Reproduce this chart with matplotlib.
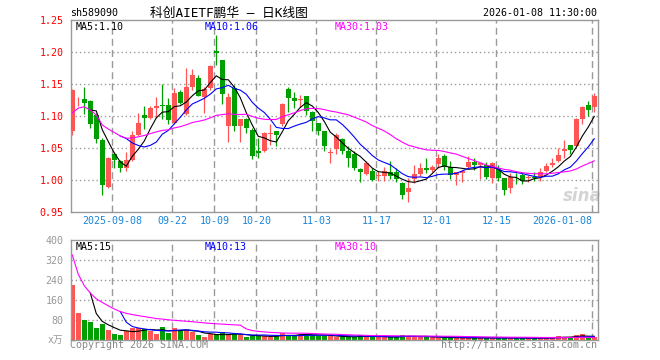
"""
Daily K-line chart (sina finance style) for sh589090 with MA lines and volume.
"""

import numpy as np
import pandas as pd
import matplotlib
matplotlib.use("Agg")
import matplotlib.pyplot as plt

# ── Style ────────────────────────────────────────────────────────────────────
plt.rcParams['font.family'] = ['DejaVu Sans Mono', 'Noto Sans CJK SC']
RED    = '#ff5555'
GREEN  = '#00a000'
GRID   = '#9a9a9a'
FRAME  = '#999999'
OUTPUT = "out.png"

# ── Data ─────────────────────────────────────────────────────────────────────
# one trading day before the window: only used for the moving averages
prior_close  = [1.07]
prior_volume = [460]

open_ = [1.076, 1.126, 1.126, 1.124, 1.102, 1.063, 0.989, 1.040, 1.029, 1.018,
         1.032, 1.070, 1.102, 1.097, 1.113, 1.117, 1.117, 1.089, 1.138, 1.103,
         1.145, 1.160, 1.129, 1.143, 1.201, 1.188, 1.085, 1.144, 1.084, 1.095,
         1.078, 1.046, 1.045, 1.072, 1.076, 1.088, 1.142, 1.128, 1.125, 1.131,
         1.107, 1.089, 1.076, 1.042, 1.048, 1.064, 1.046, 1.040, 1.017, 1.009,
         1.014, 1.006, 1.007, 1.013, 1.013, 0.996, 0.982, 1.001, 1.009, 1.019,
         1.015, 1.025, 1.037, 1.020, 1.008, 1.011, 1.021, 1.028, 1.024, 1.024,
         1.003, 1.019, 1.003, 0.988, 1.002, 1.008, 1.003, 1.004, 1.005, 1.014,
         1.023, 1.029, 1.045, 1.054, 1.053, 1.095, 1.117, 1.114]
high  = [1.142, 1.130, 1.146, 1.125, 1.104, 1.066, 1.036, 1.043, 1.032, 1.043,
         1.077, 1.104, 1.115, 1.115, 1.129, 1.150, 1.128, 1.143, 1.141, 1.175,
         1.174, 1.164, 1.146, 1.180, 1.226, 1.188, 1.136, 1.149, 1.095, 1.097,
         1.081, 1.066, 1.075, 1.088, 1.077, 1.120, 1.145, 1.138, 1.133, 1.131,
         1.108, 1.089, 1.077, 1.048, 1.073, 1.066, 1.053, 1.045, 1.018, 1.030,
         1.019, 1.014, 1.021, 1.029, 1.019, 0.997, 1.003, 1.024, 1.027, 1.034,
         1.024, 1.041, 1.040, 1.029, 1.013, 1.016, 1.037, 1.034, 1.027, 1.028,
         1.028, 1.024, 1.003, 1.011, 1.011, 1.011, 1.008, 1.013, 1.019, 1.027,
         1.034, 1.050, 1.063, 1.055, 1.097, 1.115, 1.124, 1.136]
low   = [1.071, 1.115, 1.103, 1.082, 1.058, 0.976, 0.987, 1.019, 1.013, 1.014,
         1.030, 1.069, 1.080, 1.095, 1.097, 1.095, 1.088, 1.088, 1.119, 1.102,
         1.141, 1.131, 1.105, 1.141, 1.180, 1.119, 1.059, 1.076, 1.060, 1.073,
         1.033, 1.034, 1.044, 1.055, 1.053, 1.085, 1.106, 1.112, 1.114, 1.102,
         1.077, 1.071, 1.045, 1.027, 1.041, 1.040, 1.021, 1.015, 0.997, 1.008,
         0.998, 0.998, 0.998, 1.002, 0.997, 0.970, 0.965, 0.995, 1.007, 1.011,
         1.013, 1.019, 1.016, 1.002, 0.992, 0.997, 1.019, 1.016, 1.002, 1.002,
         0.996, 0.999, 0.977, 0.980, 0.993, 0.993, 0.997, 0.998, 0.998, 1.013,
         1.021, 1.028, 1.035, 1.041, 1.052, 1.087, 1.100, 1.107]
close = [1.140, 1.127, 1.121, 1.088, 1.064, 0.992, 1.035, 1.032, 1.018, 1.031,
         1.070, 1.089, 1.097, 1.113, 1.116, 1.115, 1.093, 1.136, 1.120, 1.145,
         1.164, 1.132, 1.142, 1.178, 1.198, 1.135, 1.130, 1.085, 1.095, 1.081,
         1.038, 1.042, 1.073, 1.073, 1.071, 1.118, 1.128, 1.123, 1.127, 1.108,
         1.092, 1.077, 1.053, 1.043, 1.071, 1.046, 1.035, 1.019, 1.013, 1.026,
         1.000, 1.007, 1.014, 1.007, 1.002, 0.976, 0.988, 1.009, 1.019, 1.015,
         1.020, 1.035, 1.021, 1.008, 1.013, 1.014, 1.028, 1.024, 1.026, 1.005,
         1.026, 1.003, 0.985, 1.005, 1.001, 0.998, 1.004, 1.003, 1.012, 1.022,
         1.027, 1.039, 1.048, 1.047, 1.095, 1.114, 1.110, 1.131]
# volume, x10k shares
volume = [220, 108, 80, 72, 48, 64, 40, 24, 20, 36,
          48, 48, 44, 36, 24, 52, 28, 48, 36, 40,
          32, 20, 12, 24, 20, 32, 20, 24, 20, 12,
          16, 16, 16, 12, 16, 28, 20, 16, 24, 24,
          20, 16, 16, 16, 12, 12, 12, 12, 22, 12,
          12, 12, 12, 12, 12, 20, 18, 12, 12, 12,
          12, 9, 8, 8, 9, 8, 9, 8, 8, 8,
          9, 8, 8, 8, 8, 8, 7, 7, 8, 10,
          10, 16, 12, 10, 20, 24, 10, 11]

date_idx    = [7, 17, 24, 31, 41, 51, 61, 71, 87]
date_labels = ['2025-09-08', '09-22', '10-09', '10-20', '11-03',
               '11-17', '12-01', '12-15', '2026-01-08']

price_ticks = [0.95, 1.00, 1.05, 1.10, 1.15, 1.20, 1.25]
vol_ticks   = [80, 160, 240, 320, 400]


# ============================================================
# MOVING AVERAGES
# ============================================================

open_, high, low, close = map(np.array, (open_, high, low, close))
volume = np.array(volume, dtype=float)

c_all = pd.Series(np.concatenate([prior_close, close]))
v_all = pd.Series(np.concatenate([prior_volume, volume]))
n_pre = len(prior_close)

ma5   = c_all.rolling(5).mean().values[n_pre:]
ma10  = c_all.rolling(10).mean().values[n_pre:]
ma30  = c_all.rolling(30, min_periods=1).mean().values[n_pre:]
vma5  = v_all.rolling(5).mean().values[n_pre:]
vma10 = v_all.rolling(10).mean().values[n_pre:]
vma30 = v_all.rolling(30, min_periods=1).mean().values[n_pre:]

idx    = np.arange(len(close))
colors = np.where(close >= open_, RED, GREEN)
vlines_x = np.array(date_idx) - 0.33


# ============================================================
# FIGURE
# ============================================================

W, H = 660, 360
fig = plt.figure(figsize=(W / 100, H / 100), dpi=100)
ax  = fig.add_axes([70.5 / W, 1 - 212 / H, 527.2 / W, 192 / H])
axv = fig.add_axes([70.5 / W, 20 / H, 527.2 / W, 100 / H])

for a in (ax, axv):
    a.set_xlim(-0.3, 87.57)
    for sp in a.spines.values():
        sp.set_color(FRAME)
        sp.set_linewidth(1.0)
    for x in vlines_x:
        a.axvline(x, color=GRID, lw=1.0, ls=(0, (5, 3)), zorder=1)

# ── Price panel ─────────────────────────────────────────────
ax.set_ylim(0.95, 1.25)
for y in price_ticks[1:-1]:
    ax.axhline(y, color=GRID, lw=1.0, ls=(0, (1, 2)), zorder=1)

ax.vlines(idx, low, high, colors=colors, lw=0.9, zorder=2)
body_h = np.maximum(np.abs(close - open_), 0.0012)
ax.bar(idx, body_h, bottom=np.minimum(open_, close), width=0.78,
       color=colors, linewidth=0, zorder=3)

ax.plot(idx, ma5,  color='black',   lw=0.8, zorder=4)
ax.plot(idx, ma10, color='#0000ff', lw=0.8, zorder=4)
ax.plot(idx, ma30, color='#ff00ff', lw=0.8, zorder=4)

ax.set_yticks(price_ticks)
ax.set_yticklabels([f"{v:.2f}" for v in price_ticks])
ax.tick_params(axis='y', length=0, pad=5, labelsize=7.2, labelcolor='#ff0000')
ax.set_xticks(vlines_x)
ax.set_xticklabels(date_labels)
ax.tick_params(axis='x', length=0, pad=3, labelsize=7.2, labelcolor='#1a86d8')
ax.get_xticklabels()[-1].set_ha('right')

ax.text(0.009, 0.965, f"MA5:{ma5[-1]:.2f}", transform=ax.transAxes,
        fontsize=7.2, color='black', va='center')
ax.text(0.255, 0.965, f"MA10:{ma10[-1]:.2f}", transform=ax.transAxes,
        fontsize=7.2, color='#0000ff', va='center')
ax.text(0.501, 0.965, f"MA30:{ma30[-1]:.2f}", transform=ax.transAxes,
        fontsize=7.2, color='#ff00ff', va='center')
ax.text(582 / W, 1 - 196 / H, "sina", transform=fig.transFigure,
        fontsize=12, color='#d4d4d4', style='italic', weight='bold',
        family='DejaVu Sans', ha='center', va='center', zorder=1)

# ── Volume panel ────────────────────────────────────────────
axv.set_ylim(0, 400)
for y in vol_ticks[:-1]:
    axv.axhline(y, color=GRID, lw=1.0, ls=(0, (1, 2)), zorder=1)

axv.bar(idx, volume, width=0.8, color=colors, linewidth=0, zorder=2)
axv.plot(idx, vma5,  color='black',   lw=0.8, zorder=3)
axv.plot(idx, vma10, color='#0000ff', lw=0.8, zorder=3)
axv.plot(idx, vma30, color='#ff00ff', lw=0.8, zorder=3)

axv.set_yticks(vol_ticks)
axv.set_yticklabels([str(v) for v in vol_ticks])
axv.tick_params(axis='y', length=0, pad=5, labelsize=7.2, labelcolor='#999999')
axv.set_xticks([])
axv.text(-0.013, 0.0, "x万", transform=axv.transAxes, fontsize=7,
         color='#999999', ha='right', va='center')

axv.text(0.009, 0.935, f"MA5:{vma5[-1]:.0f}", transform=axv.transAxes,
         fontsize=7.2, color='black', va='center')
axv.text(0.255, 0.935, f"MA10:{vma10[-1]:.0f}", transform=axv.transAxes,
         fontsize=7.2, color='#0000ff', va='center')
axv.text(0.501, 0.935, f"MA30:{vma30[-1]:.0f}", transform=axv.transAxes,
         fontsize=7.2, color='#ff00ff', va='center')

# ── Header / footer text ───────────────────────────────────
fig.text(70 / W, 1 - 13 / H, "sh589090", fontsize=7.2, va='center')
fig.text(150 / W, 1 - 13 / H, "科创AIETF鹏华 — 日K线图", fontsize=9.2, va='center')
fig.text(597 / W, 1 - 13 / H, "2026-01-08 11:30:00", fontsize=7.2,
         va='center', ha='right')
fig.text(70 / W, 1 - 345 / H, "Copyright 2026 SINA.COM", fontsize=7.2,
         color='#888888', va='center')
fig.text(597 / W, 1 - 345 / H, "http://finance.sina.com.cn", fontsize=7.2,
         color='#888888', va='center', ha='right')

fig.savefig(OUTPUT, dpi=100)
